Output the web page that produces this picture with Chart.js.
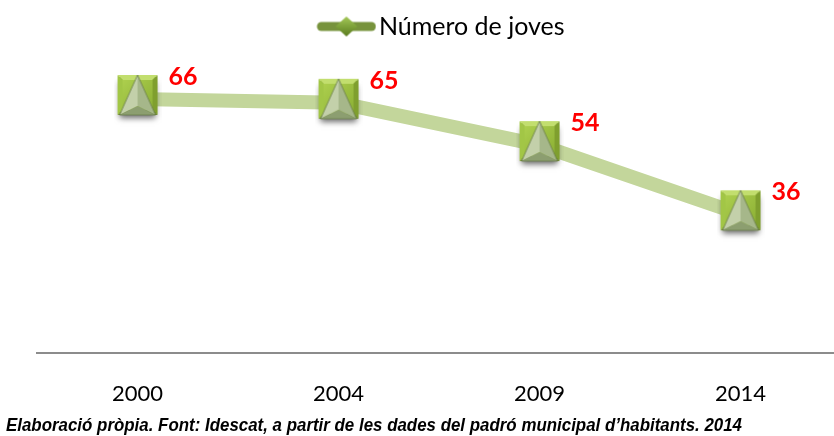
<!DOCTYPE html>
<html>
<head>
<meta charset="utf-8">
<script src="https://cdn.jsdelivr.net/npm/chart.js@4/dist/chart.umd.min.js"></script>
<style>
  html, body { margin: 0; padding: 0; background: #fff; }
</style>
</head>
<body>
<canvas id="chart" width="834" height="436"></canvas>
<script>
// Data
const years = ['2000', '2004', '2009', '2014'];
const joves = [66, 65, 54, 36];
const seriesName = 'Número de joves';
const footerText = 'Elaboració pròpia. Font: Idescat, a partir de les dades del padró municipal d\u2019habitants. 2014';

// Marker: green bevelled square with a grey-green pyramid on top
function makeMarker() {
    const c = document.createElement('canvas');
    c.width = 48; c.height = 56;
    const g = c.getContext('2d');
    const s = 40, x0 = 4, y0 = 4;
    const cx = x0 + s / 2, cy = y0 + s / 2;
    // shadow
    g.save();
    g.shadowColor = 'rgba(0,0,0,0.6)';
    g.shadowBlur = 6;
    g.shadowOffsetY = 5;
    g.fillStyle = '#6f8f24';
    g.fillRect(x0 + 2, y0 + 2, s - 4, s - 4);
    g.restore();
    // bevelled faces
    const faces = [
        [[x0, y0], [x0 + s, y0], '#c2de6e'],
        [[x0 + s, y0], [x0 + s, y0 + s], '#7f9f2e'],
        [[x0 + s, y0 + s], [x0, y0 + s], '#617d1e'],
        [[x0, y0 + s], [x0, y0], '#a2c646']
    ];
    faces.forEach(f => {
        g.beginPath();
        g.moveTo(f[0][0], f[0][1]);
        g.lineTo(f[1][0], f[1][1]);
        g.lineTo(cx, cy);
        g.closePath();
        g.fillStyle = f[2];
        g.fill();
    });
    const inner = g.createLinearGradient(x0, y0, x0 + s, y0 + s);
    inner.addColorStop(0, '#b2d452');
    inner.addColorStop(1, '#86aa30');
    g.fillStyle = inner;
    g.fillRect(x0 + 5, y0 + 5, s - 10, s - 10);
    // pyramid
    const bx1 = x0 + 2, bx2 = x0 + s - 2, by = y0 + s, ay = y0, my = by - 9;
    g.beginPath();
    g.moveTo(cx, ay); g.lineTo(bx1, by); g.lineTo(cx, my); g.closePath();
    g.fillStyle = '#c3d0aa'; g.fill();
    g.beginPath();
    g.moveTo(cx, ay); g.lineTo(bx2, by); g.lineTo(cx, my); g.closePath();
    g.fillStyle = '#a6b78a'; g.fill();
    g.beginPath();
    g.moveTo(bx1, by); g.lineTo(bx2, by); g.lineTo(cx, my); g.closePath();
    g.fillStyle = '#8c9e70'; g.fill();
    g.beginPath();
    g.moveTo(cx, ay); g.lineTo(bx1, by); g.lineTo(bx2, by); g.closePath();
    g.strokeStyle = 'rgba(105,125,75,0.8)'; g.lineWidth = 1; g.stroke();
    return c;
}

// Legend symbol: thick green line with a diamond (left part left blank to place the item)
function makeLegendMark() {
    const c = document.createElement('canvas');
    c.width = 111; c.height = 24;
    const g = c.getContext('2d');
    g.strokeStyle = '#77933c';
    g.lineWidth = 9;
    g.lineCap = 'round';
    g.beginPath(); g.moveTo(56, 12); g.lineTo(106, 12); g.stroke();
    const d = g.createLinearGradient(81, 1, 81, 23);
    d.addColorStop(0, '#a9cc5c');
    d.addColorStop(0.5, '#7ea23a');
    d.addColorStop(1, '#56761c');
    g.fillStyle = d;
    g.beginPath();
    g.moveTo(81, 2); g.lineTo(92, 12); g.lineTo(81, 22); g.lineTo(70, 12); g.closePath();
    g.fill();
    return c;
}

const marker = makeMarker();
const legendMark = makeLegendMark();

// Value labels next to the markers
const valueLabels = {
    id: 'valueLabels',
    afterDatasetsDraw(chart) {
        const ctx = chart.ctx;
        const meta = chart.getDatasetMeta(0);
        ctx.save();
        ctx.fillStyle = '#ff0000';
        ctx.font = 'bold 25px Lato';
        ctx.textAlign = 'left';
        ctx.textBaseline = 'middle';
        meta.data.forEach((pt, i) => {
            ctx.fillText(joves[i], pt.x + 31, pt.y - 22);
        });
        ctx.restore();
    }
};

// Source note under the axis, condensed bold italic
const footer = {
    id: 'footer',
    afterDraw(chart) {
        const ctx = chart.ctx;
        ctx.save();
        ctx.font = 'italic bold 18px "Liberation Sans"';
        ctx.fillStyle = '#000';
        ctx.textBaseline = 'middle';
        const w = ctx.measureText(footerText).width;
        ctx.translate(6, 426);
        ctx.scale(736 / w, 1);
        ctx.fillText(footerText, 0, 0);
        ctx.restore();
    }
};

new Chart(document.getElementById('chart'), {
    type: 'line',
    data: {
        datasets: [{
            label: seriesName,
            data: joves.map((v, i) => ({ x: i, y: v })),
            borderColor: '#c3d69b',
            borderWidth: 14,
            pointStyle: marker,
            tension: 0
        }]
    },
    options: {
        responsive: false,
        animation: false,
        layout: { autoPadding: false, padding: { top: 10, left: 6, right: 0, bottom: 1 } },
        scales: {
            x: {
                type: 'linear',
                min: -0.5,
                max: 3.465,
                afterBuildTicks: s => { s.ticks = years.map((_, i) => ({ value: i })); },
                grid: { display: false, drawTicks: false },
                border: { display: true, color: '#8c8c8c', width: 2 },
                ticks: {
                    callback: v => years[v],
                    color: '#000',
                    font: { family: 'Lato', size: 22 },
                    padding: 28,
                    maxRotation: 0
                }
            },
            y: {
                min: 0,
                max: 79,
                grid: { display: false, drawTicks: false },
                border: { display: false },
                ticks: { display: false },
                afterFit: s => { s.width = 31; }
            }
        },
        plugins: {
            legend: {
                labels: {
                    usePointStyle: true,
                    pointStyleWidth: 91,
                    color: '#000',
                    font: { family: 'Lato', size: 25 },
                    padding: 4,
                    generateLabels: chart => [{
                        text: seriesName,
                        pointStyle: legendMark,
                        datasetIndex: 0,
                        fillStyle: '#77933c',
                        strokeStyle: '#77933c',
                        lineWidth: 0
                    }]
                }
            },
            tooltip: { enabled: false }
        }
    },
    plugins: [valueLabels, footer]
});
</script>
</body>
</html>
